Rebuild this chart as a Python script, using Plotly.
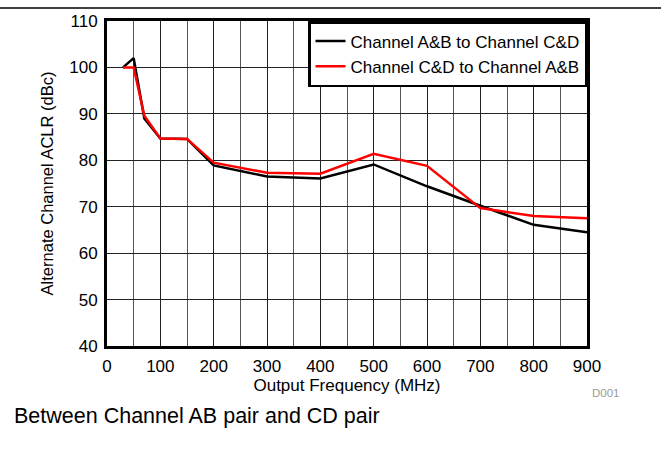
import plotly.graph_objects as go

freq_mhz = [30, 50, 70, 100, 150, 200, 300, 400, 500, 600, 700, 800, 900]
aclr_ab_to_cd = [100, 102, 89.0, 84.7, 84.6, 78.9, 76.5, 76.1, 79.1, 74.4, 70.2, 66.1, 64.5]
aclr_cd_to_ab = [100, 100, 89.6, 84.7, 84.6, 79.5, 77.3, 77.1, 81.4, 78.8, 69.7, 68.0, 67.5]
series_names = ["Channel A&B to Channel C&D", "Channel C&D to Channel A&B"]
x_range = [0, 900]
y_range = [40, 110]

FONT = "Arial, 'Liberation Sans', sans-serif"
W, H = 661, 455
L, R, T, B = 107, 74, 19, 109
pw, ph = W - L - R, H - T - B

def px_x(p):
    return (p - L) / pw

def px_y(p):
    return (H - B - p) / ph

fig = go.Figure()
fig.add_trace(go.Scatter(x=freq_mhz, y=aclr_ab_to_cd, mode="lines", name=series_names[0],
                         line=dict(color="black", width=2.5)))
fig.add_trace(go.Scatter(x=freq_mhz, y=aclr_cd_to_ab, mode="lines", name=series_names[1],
                         line=dict(color="#ff0000", width=2.5)))

fig.update_layout(
    width=W, height=H,
    margin=dict(l=L, r=R, t=T, b=B, pad=0),
    paper_bgcolor="white", plot_bgcolor="white",
    font=dict(family=FONT, size=17, color="black"),
    showlegend=True,
    legend=dict(x=1, y=1, xanchor="right", yanchor="top",
                bgcolor="white", bordercolor="black", borderwidth=2.5,
                font=dict(family=FONT, size=17, color="black"),
                itemwidth=30, tracegroupgap=0),
    xaxis=dict(range=x_range, tickmode="linear", tick0=0, dtick=100,
               showgrid=True, gridcolor="#222222", gridwidth=1,
               minor=dict(tickmode="linear", tick0=0, dtick=50, showgrid=True,
                          gridcolor="#555555", gridwidth=1),
               showline=True, linecolor="black", linewidth=3, mirror=True,
               ticks="outside", ticklen=3, tickcolor="rgba(0,0,0,0)",
               zeroline=False,
               tickfont=dict(size=17),
               title=dict(text="Output Frequency (MHz)", font=dict(size=17), standoff=2)),
    yaxis=dict(range=y_range, tickmode="linear", tick0=40, dtick=10,
               showgrid=True, gridcolor="#222222", gridwidth=1,
               showline=True, linecolor="black", linewidth=3, mirror=True,
               ticks="outside", ticklen=3, tickcolor="rgba(0,0,0,0)",
               zeroline=False,
               tickfont=dict(size=17),
               title=dict(text="Alternate Channel ACLR (dBc)", font=dict(size=16.5), standoff=12)),
    shapes=[dict(type="line", xref="paper", yref="paper",
                 x0=px_x(0), x1=px_x(W), y0=px_y(6), y1=px_y(6),
                 line=dict(color="black", width=1.5))],
    annotations=[
        dict(text="D001", xref="paper", yref="paper", x=px_x(606), y=px_y(393),
             xanchor="center", yanchor="middle", showarrow=False,
             font=dict(family=FONT, size=11.5, color="#999999")),
        dict(text="Between Channel AB pair and CD pair", xref="paper", yref="paper",
             x=px_x(12), y=px_y(416), xanchor="left", yanchor="middle", showarrow=False,
             font=dict(family=FONT, size=21.5, color="black")),
    ],
)

fig.write_html("out.html", config={"displayModeBar": False},
               post_script="document.body.style.margin='0px';")
